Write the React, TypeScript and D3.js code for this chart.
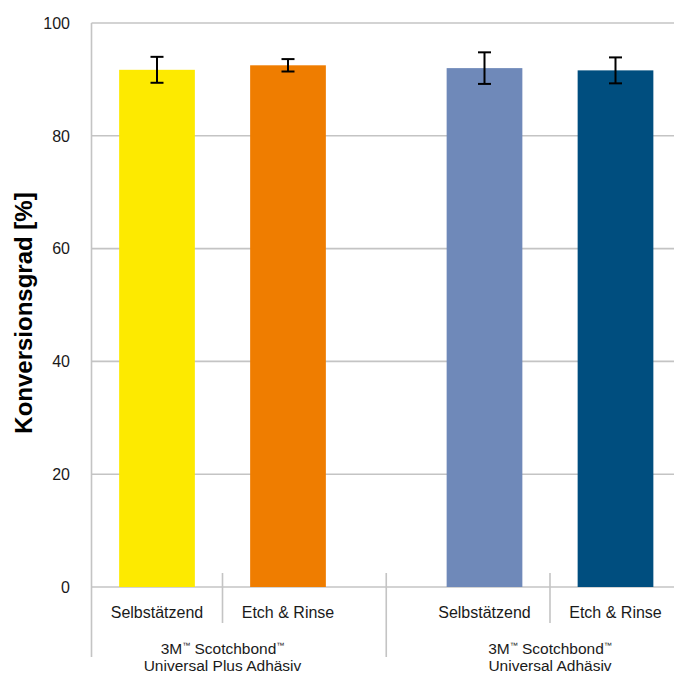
import React from "react";
import * as d3 from "d3";

const groups = ["3M™ Scotchbond™|Universal Plus Adhäsiv", "3M™ Scotchbond™|Universal Adhäsiv"];
const categories = ["Selbstätzend", "Etch & Rinse"];
const groupIndex = [0, 0, 1, 1];
const catIndex = [0, 1, 0, 1];
const values = [91.7, 92.5, 92.0, 91.6];
const errors = [2.3, 1.1, 2.8, 2.3];
const colors = ["#fdea00", "#ef7d00", "#6f89b9", "#004e7f"];
const yTicks = [0, 20, 40, 60, 80, 100];
const groupOffsets = [0, 2.5];

const W = 674;
const H = 675;
const left = 91.5;
const unit = 131;
const y0 = 587;
const yTop = 23;
const font = "'Liberation Sans', Arial, sans-serif";
const gridColor = "#c4c4c4";

function Label({ text, x, y }: { text: string; x: number; y: number }) {
  const tokens = text.split(/(™)/).filter((t) => t.length > 0);
  let prevTM = false;
  return (
    <text x={x} y={y} textAnchor="middle" fontFamily={font} fontSize={15.5} fill="#1a1a1a">
      {tokens.map((t, i) => {
        if (t === "™") {
          prevTM = true;
          return (
            <tspan key={i} fontSize={8} dy={-6}>
              ™
            </tspan>
          );
        }
        const dy = prevTM ? 6 : 0;
        prevTM = false;
        return (
          <tspan key={i} dy={dy}>
            {t}
          </tspan>
        );
      })}
    </text>
  );
}

export default function App() {
  const x = d3.scaleLinear().domain([0, 4.5]).range([left, left + 4.5 * unit]);
  const y = d3.scaleLinear().domain([0, 100]).range([y0, yTop]);
  const barW = 0.578;
  const capW = 13;

  const pos = values.map((_, i) => groupOffsets[groupIndex[i]] + catIndex[i] + 0.5);
  const innerDividers = groupOffsets.map((g) => g + 1);
  const groupDivider = (groupOffsets[0] + 1.5 + groupOffsets[1] + 0.5) / 2;

  return (
    <svg
      width={W}
      height={H}
      style={{ position: "absolute", left: 0, top: 0, background: "#fff" }}
    >
      {yTicks.map((t) => (
        <g key={t}>
          <line x1={left} x2={W} y1={y(t)} y2={y(t)} stroke={gridColor} strokeWidth={1.6} />
          <text
            x={70}
            y={y(t)}
            dy="0.36em"
            textAnchor="end"
            fontFamily={font}
            fontSize={16}
            fill="#1a1a1a"
          >
            {t}
          </text>
        </g>
      ))}
      <line x1={left} x2={left} y1={yTop} y2={657} stroke={gridColor} strokeWidth={1.6} />
      {innerDividers.map((d, i) => (
        <line key={i} x1={x(d)} x2={x(d)} y1={573} y2={623} stroke={gridColor} strokeWidth={1.6} />
      ))}
      <line x1={x(groupDivider)} x2={x(groupDivider)} y1={573} y2={657} stroke={gridColor} strokeWidth={1.6} />

      {values.map((v, i) => (
        <rect
          key={i}
          x={x(pos[i] - barW / 2)}
          width={x(barW) - x(0)}
          y={y(v)}
          height={y(0) - y(v)}
          fill={colors[i]}
        />
      ))}
      {values.map((v, i) => {
        const cx = x(pos[i]);
        const hi = y(v + errors[i]);
        const lo = y(v - errors[i]);
        return (
          <g key={i} stroke="#000" strokeWidth={2}>
            <line x1={cx} x2={cx} y1={hi} y2={lo} />
            <line x1={cx - capW / 2} x2={cx + capW / 2} y1={hi} y2={hi} />
            <line x1={cx - capW / 2} x2={cx + capW / 2} y1={lo} y2={lo} />
          </g>
        );
      })}

      {values.map((_, i) => (
        <text
          key={i}
          x={x(pos[i])}
          y={618}
          textAnchor="middle"
          fontFamily={font}
          fontSize={16}
          fill="#1a1a1a"
        >
          {categories[catIndex[i]]}
        </text>
      ))}

      {groups.map((g, gi) => {
        const lines = g.split("|");
        const cx = x(groupOffsets[gi] + 1);
        return (
          <g key={gi}>
            <Label text={lines[0]} x={cx} y={654} />
            <Label text={lines[1]} x={cx} y={671} />
          </g>
        );
      })}

      <text
        transform={`translate(32, ${313}) rotate(-90)`}
        textAnchor="middle"
        fontFamily={font}
        fontSize={24}
        fontWeight="bold"
        fill="#000"
      >
        Konversionsgrad [%]
      </text>
    </svg>
  );
}
